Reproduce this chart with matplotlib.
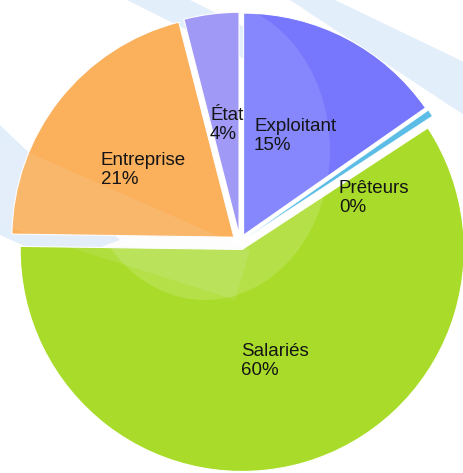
import matplotlib
matplotlib.use("Agg")
import matplotlib.pyplot as plt
from matplotlib.patches import Polygon, Ellipse
import numpy as np

categories = ["Exploitant", "Prêteurs", "Salariés", "Entreprise", "État"]
values = [15.3, 0.49, 59.5, 20.8, 4.0]
colors = ["#7677fc", "#5bbde6", "#a9dc2a", "#fbb05c", "#a199f6"]

plt.rcParams['font.family'] = ['Liberation Sans', 'DejaVu Sans']

W, H = 464, 473
fig = plt.figure(figsize=(W / 100, H / 100), dpi=100)
ax = fig.add_axes([0, 0, 1, 1])

R = 222.0
cx, cy = 240.0, 231.0

def px(x, y):
    return ((x - cx) / R, ((H - y) - cy) / R)

labels = [f"{c}\n{round(v):.0f}%" for c, v in zip(categories, values)]
wedges, texts = ax.pie(values, labels=labels, colors=colors, startangle=90,
                       counterclock=False, explode=[0.035] * len(values),
                       labeldistance=0.58, radius=1.0, frame=False,
                       wedgeprops=dict(edgecolor='white', linewidth=0.8),
                       textprops=dict(fontsize=13.5, color='#151515'))
ax.set_xlim(-cx / R, (W - cx) / R)
ax.set_ylim(-cy / R, (H - cy) / R)
ax.set_aspect('equal')
ax.axis('off')

for w in wedges:
    w.set_zorder(1)
wedges[1].set_linewidth(0.3)
label_pos = [(254, 136), (339, 198), (241, 361), (101, 170), (210, 125)]
for t, p in zip(texts, label_pos):
    t.set_ha('left')
    t.set_va('center')
    t.set_multialignment('left')
    t.set_linespacing(1.1)
    t.set_zorder(4)
    t.set_position(px(*p))

# background decorative light-blue bands
band_color = "#e3eefb"
bands = [
    [(290, 0), (335, 0), (464, 62), (464, 115)],
    [(127, 0), (190, 0), (420, 115), (357, 115)],
    [(0, 125), (0, 235), (60, 262), (120, 240)],
]
for b in bands:
    ax.add_patch(Polygon([px(*p) for p in b], closed=True, fc=band_color,
                         ec='none', alpha=1.0, zorder=0))

# soft glare over the pie
glare = Ellipse(px(205, 150), width=250 / R, height=300 / R, fc='white',
                ec='none', alpha=0.14, zorder=2)
ax.add_patch(glare)
glare.set_clip_path(wedges[2])
glare2 = Ellipse(px(205, 150), width=250 / R, height=300 / R, fc='white',
                 ec='none', alpha=0.12, zorder=2)
ax.add_patch(glare2)
glare2.set_clip_path(wedges[0])

overlays = [
    [(0, 140), (0, 225), (235, 300), (250, 250)],
]
for b in overlays:
    ax.add_patch(Polygon([px(*p) for p in b], closed=True, fc="#eef5fd",
                         ec='none', alpha=0.10, zorder=2))

fig.savefig("out.png", dpi=100)
